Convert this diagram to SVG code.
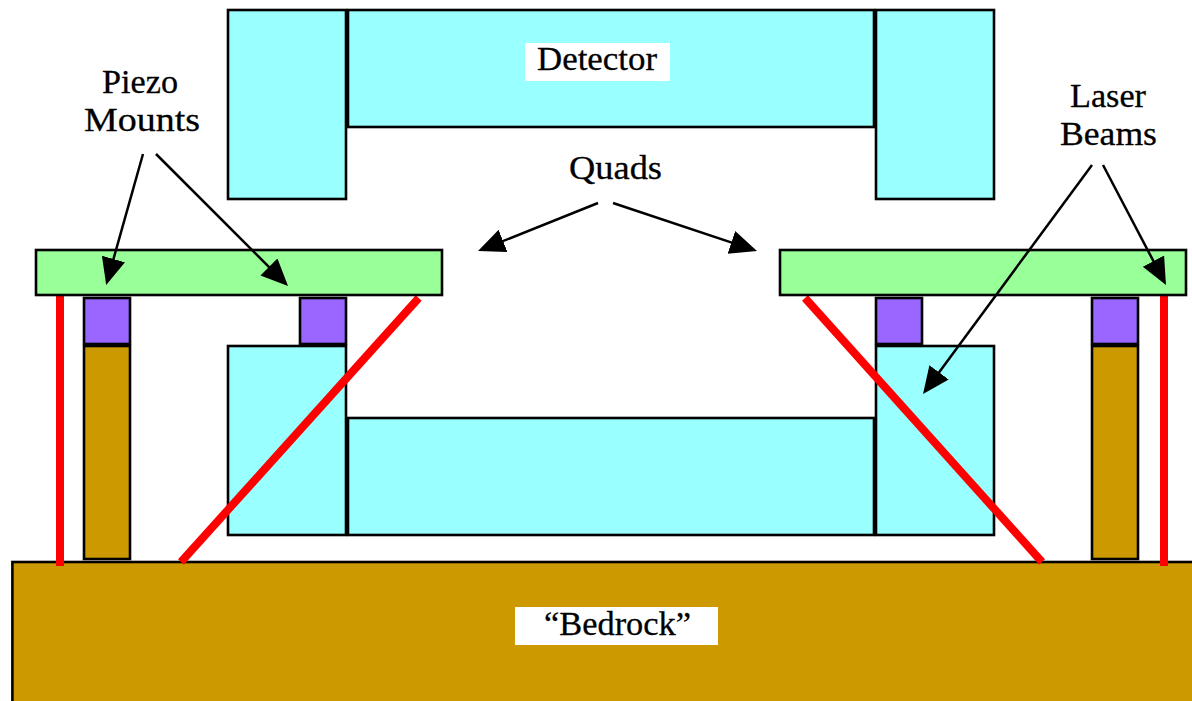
<svg xmlns="http://www.w3.org/2000/svg" width="1192" height="701" viewBox="0 0 1192 701">
<style>
rect{stroke:#000;stroke-width:2.6}
.c{fill:#9ff}.g{fill:#9f9}.p{fill:#96f}.b{fill:#c90}
rect.w{fill:#fff;stroke:none}
.r{stroke:#f00;stroke-width:8;fill:none}
.a{stroke:#000;stroke-width:2.5;fill:none;marker-end:url(#ah)}
text{font-family:"Liberation Serif","Times New Roman",serif;font-size:34.5px;fill:#000;stroke:#000;stroke-width:.3;text-anchor:middle}
</style>
<defs><marker id="ah" markerUnits="userSpaceOnUse" markerWidth="28" markerHeight="25" refX="21" refY="12" orient="auto"><path d="M0 0L27 12L0 24Z" fill="#000"/></marker></defs>
<rect width="1192" height="701" fill="#fff" style="stroke:none"/>
<g id="detector">
<rect class="c" x="228" y="10" width="118" height="189"/>
<rect class="c" x="348" y="10" width="526" height="117"/>
<rect class="c" x="876" y="10" width="118" height="189"/>
<rect class="w" x="525" y="43" width="145" height="38"/>
<text x="597" y="70" textLength="120" lengthAdjust="spacingAndGlyphs">Detector</text>
</g>
<g id="quad-lower">
<rect class="c" x="228" y="346" width="118" height="189"/>
<rect class="c" x="348" y="418" width="526" height="117"/>
<rect class="c" x="876" y="346" width="118" height="189"/>
</g>
<g id="bedrock">
<rect class="b" x="12.4" y="562" width="1200" height="160"/>
<rect class="w" x="515" y="607" width="203" height="38"/>
<text x="617.5" y="635" textLength="147" lengthAdjust="spacingAndGlyphs">“Bedrock”</text>
</g>
<g id="supports">
<rect class="b" x="84" y="346" width="46" height="213"/>
<rect class="b" x="1092" y="346" width="46" height="213"/>
<rect class="p" x="84" y="298" width="46" height="46"/>
<rect class="p" x="300" y="298" width="46" height="46"/>
<rect class="p" x="876" y="298" width="46" height="46"/>
<rect class="p" x="1092" y="298" width="46" height="46"/>
</g>
<g id="beams">
<line class="r" x1="60" y1="295" x2="60" y2="566"/>
<line class="r" x1="1164" y1="295" x2="1164" y2="566"/>
<line class="r" x1="418.7" y1="298" x2="181" y2="562"/>
<line class="r" x1="805" y1="298" x2="1042" y2="562"/>
</g>
<g id="plates">
<rect class="g" x="36" y="250" width="406" height="45"/>
<rect class="g" x="780" y="250" width="406" height="45"/>
</g>
<g id="labels">
<text x="140" y="93" textLength="76" lengthAdjust="spacingAndGlyphs">Piezo</text>
<text x="142" y="131" textLength="116" lengthAdjust="spacingAndGlyphs">Mounts</text>
<text x="615.5" y="179" textLength="93" lengthAdjust="spacingAndGlyphs">Quads</text>
<text x="1108" y="107" textLength="76" lengthAdjust="spacingAndGlyphs">Laser</text>
<text x="1108.5" y="145" textLength="97" lengthAdjust="spacingAndGlyphs">Beams</text>
</g>
<g id="connectors">
<line class="a" x1="143" y1="154" x2="107.8" y2="279.2"/>
<line class="a" x1="156" y1="154" x2="283.8" y2="281.8"/>
<line class="a" x1="598" y1="203" x2="483.6" y2="248.8"/>
<line class="a" x1="613" y1="203" x2="751.3" y2="249.1"/>
<line class="a" x1="1092" y1="165" x2="926.6" y2="389.2"/>
<line class="a" x1="1103" y1="165" x2="1163.2" y2="279.7"/>
</g>
</svg>
